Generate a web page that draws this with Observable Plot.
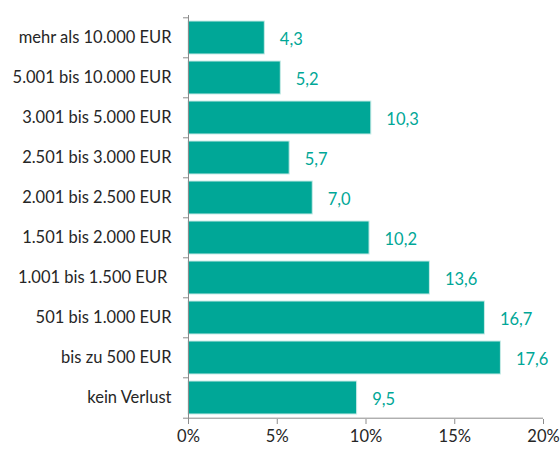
<!DOCTYPE html>
<html>
<head>
<meta charset="utf-8">
<script src="https://cdn.jsdelivr.net/npm/d3@7"></script>
<script src="https://cdn.jsdelivr.net/npm/@observablehq/plot@0.6"></script>
<style>
  html, body { margin: 0; padding: 0; background: #fff; }
  svg { font-family: Lato, "Open Sans", sans-serif; }
</style>
</head>
<body>
<div id="chart"></div>
<script>
const categories = [
  "mehr als 10.000 EUR",
  "5.001 bis 10.000 EUR",
  "3.001 bis 5.000 EUR",
  "2.501 bis 3.000 EUR",
  "2.001 bis 2.500 EUR",
  "1.501 bis 2.000 EUR",
  "1.001 bis 1.500 EUR ",
  "501 bis 1.000 EUR",
  "bis zu 500 EUR",
  "kein Verlust"
];
const values = [4.3, 5.2, 10.3, 5.7, 7.0, 10.2, 13.6, 16.7, 17.6, 9.5];
const xTicks = [0, 5, 10, 15, 20];

const data = categories.map((c, i) => ({category: c, value: values[i]}));
const fmt = d => d3.format(".1f")(d).replace(".", ",");

const W = 560, H = 450, mTop = 15, mBottom = 31;
const halfStep = (H - mTop - mBottom) / categories.length / 2;
const FS = 16.5;

const chart = Plot.plot({
  width: W,
  height: H,
  marginLeft: 188,
  marginRight: 17,
  marginTop: mTop,
  marginBottom: mBottom,
  style: {fontSize: FS + "px", color: "#262626", background: "#fff"},
  x: {domain: [0, 20]},
  y: {domain: categories, paddingInner: 0.18, paddingOuter: 0.09},
  marks: [
    Plot.barX(data, {x: "value", y: "category", fill: "#00a797", stroke: "#c9ebe7", strokeWidth: 1}),
    Plot.text(data, {x: "value", y: "category", text: d => fmt(d.value), textAnchor: "start", dx: 15, dy: 2, fill: "#00a797", fontSize: FS}),
    Plot.axisX({ticks: xTicks, tickFormat: d => d + "%", tickSize: 5, tickPadding: 6, stroke: "#8c8c8c", fill: "#262626", label: null, fontSize: FS}),
    Plot.ruleY([0], {y: () => categories[categories.length - 1], dy: halfStep, stroke: "#8c8c8c"}),
    Plot.axisY({tickSize: 0, tickPadding: 17, label: null, fill: "#262626", fontSize: FS}),
    Plot.axisY({tickSize: 5, text: null, dy: -halfStep, stroke: "#8c8c8c", label: null}),
    Plot.axisY({ticks: [categories[categories.length - 1]], tickSize: 5, text: null, dy: halfStep, stroke: "#8c8c8c", label: null}),
    Plot.ruleX([0], {stroke: "#8c8c8c"})
  ]
});
document.getElementById("chart").appendChild(chart);
</script>
</body>
</html>
